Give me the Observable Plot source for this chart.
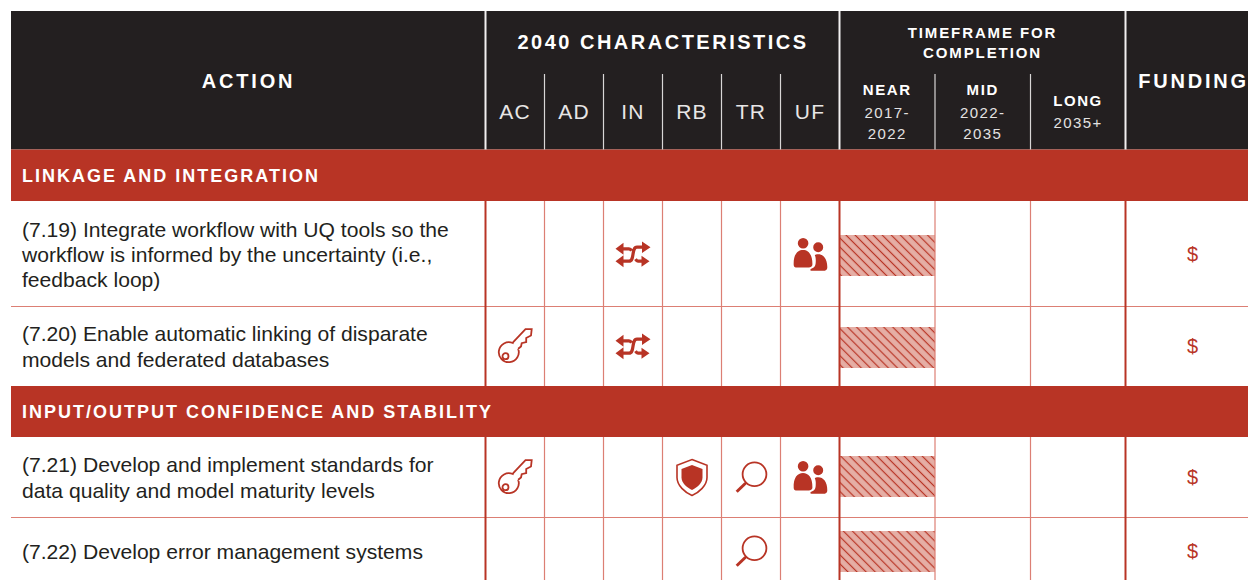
<!DOCTYPE html>
<html>
<head>
<meta charset="utf-8">
<script src="https://cdn.jsdelivr.net/npm/d3@7"></script>
<script src="https://cdn.jsdelivr.net/npm/@observablehq/plot@0.6"></script>
<style>html,body{margin:0;padding:0;background:#fff}svg{display:block}</style>
</head>
<body>
<script>
// ---- data ----
const sections = ["LINKAGE AND INTEGRATION", "INPUT/OUTPUT CONFIDENCE AND STABILITY"];
const actions = [
  "(7.19) Integrate workflow with UQ tools so the\nworkflow is informed by the uncertainty (i.e.,\nfeedback loop)",
  "(7.20) Enable automatic linking of disparate\nmodels and federated databases",
  "(7.21) Develop and implement standards for\ndata quality and model maturity levels",
  "(7.22) Develop error management systems"
];
const characteristics = ["AC", "AD", "IN", "RB", "TR", "UF"];
const actionCharacteristics = [["IN", "UF"], ["AC", "IN"], ["AC", "RB", "TR", "UF"], ["TR"]];
const timeframes = ["NEAR", "MID", "LONG"];
const timeframeLabels = ["2017-\n2022", "2022-\n2035", "2035+"];
const actionTimeframe = ["NEAR", "NEAR", "NEAR", "NEAR"];
const actionFunding = ["$", "$", "$", "$"];

// ---- layout of the table grid (in scale units = px) ----
const W = 1248, H = 580, L = 11, T = 11;
const charEdges = [485, 544, 603, 662, 721, 780, 839];
const timeEdges = [839, 934.5, 1030, 1125];
const headBottom = 149.5, subTop = 74;
const sectionBands = [[149.5, 201], [386, 437]];
const rowLines = [306, 517];
const rowCenters = [254, 346, 477, 551];
const barBands = [[235, 276], [327, 368], [456, 497], [531, 572]];
const INK = "#231f20", RED = "#b83425", SOFT = "#dc7f74";
const SANS = "'Liberation Sans', Arial, sans-serif";
const charX = c => { const i = characteristics.indexOf(c); return (charEdges[i] + charEdges[i + 1]) / 2; };
const timeX = i => (timeEdges[i] + timeEdges[i + 1]) / 2;

const spaced = px => ({
  render(i, s, v, d, c, next) { const g = next(i, s, v, d, c); g.style.letterSpacing = px + "px"; return g; }
});
const circle = (p, x, y, r) => { p.moveTo(x + r, y); p.arc(x, y, r, 0, 2 * Math.PI); };
const poly = (p, pts, close = true) => {
  pts.forEach(([x, y], i) => i ? p.lineTo(x, y) : p.moveTo(x, y));
  if (close) p.closePath();
};

// ---- icon glyphs ----
const keyGlyph = { draw(p) {
  poly(p, [[-1.8, -4.3], [10.5, -17.4], [16.7, -17.4], [16, -11], [11.2, -8.5], [11.2, -4.5], [6.7, -3.3], [6, 0], [3.2, 2.3]], false);
  p.arc(-6.2, 5.7, 10, Math.atan2(-3.4, 9.3), Math.atan2(-10, 4.4) + 2 * Math.PI);
  p.closePath();
  circle(p, -9.5, 9.7, 3);
} };
const shuffleLines = { draw(p) {
  p.moveTo(-11, 6.7); p.lineTo(-4, 6.7); p.bezierCurveTo(2, 6.7, -2, -7.3, 4, -7.3); p.lineTo(10, -7.3);
  p.moveTo(-11, -5.7); p.lineTo(-4, -5.7); p.bezierCurveTo(-2.5, -5.7, -2, -4.8, -1.5, -3.8);
  p.moveTo(2.5, 4.6); p.bezierCurveTo(3.4, 6, 4, 6.7, 5, 6.7); p.lineTo(10, 6.7);
} };
const shuffleHeads = { draw(p) {
  poly(p, [[-17.5, -5.7], [-9.5, -11.7], [-9.5, 0.3]]);
  poly(p, [[-17.5, 6.7], [-9.5, 0.7], [-9.5, 12.7]]);
  poly(p, [[17.5, -7.3], [9, -13], [9, -1.6]]);
  poly(p, [[16.5, 6.7], [8.5, 1.2], [8.5, 12.2]]);
} };
const shieldOutline = { draw(p) {
  p.moveTo(0, -18); p.lineTo(15, -12.3); p.lineTo(15, 0);
  p.bezierCurveTo(15, 8, 7, 15, 0, 18);
  p.bezierCurveTo(-7, 15, -15, 8, -15, 0);
  p.lineTo(-15, -12.3); p.closePath();
} };
const shieldCore = { draw(p) {
  p.moveTo(0, -12.5); p.lineTo(10.5, -8.5); p.lineTo(10.5, 0);
  p.bezierCurveTo(10.5, 5.5, 5, 10, 0, 12.5);
  p.bezierCurveTo(-5, 10, -10.5, 5.5, -10.5, 0);
  p.lineTo(-10.5, -8.5); p.closePath();
} };
const lensRing = { draw(p) {
  circle(p, 3.5, -3.3, 11.9);
  p.moveTo(-5, 5.2); p.lineTo(-6.5, 6.7);
} };
const lensHandle = { draw(p) { p.moveTo(-5.5, 5.7); p.lineTo(-14.3, 14.3); } };
const peopleGlyph = { draw(p) {
  circle(p, -6.9, -11.3, 5.3);
  p.moveTo(-16.3, 10.5);
  p.bezierCurveTo(-16.8, 0, -12.5, -4.6, -7, -4.6);
  p.bezierCurveTo(-1.5, -4.6, 2.6, 0, 2.4, 10);
  p.bezierCurveTo(2.4, 12.6, 0, 13, -3, 13);
  p.lineTo(-13, 13);
  p.bezierCurveTo(-15, 13, -16.3, 12.5, -16.3, 10.5);
  p.closePath();
  circle(p, 8.2, -7.3, 5);
  p.moveTo(8, -0.3);
  p.bezierCurveTo(13, -0.5, 17.5, 4, 17.3, 13);
  p.bezierCurveTo(17.3, 15.5, 15.8, 16.3, 13, 16.3);
  p.lineTo(1.5, 16.3);
  p.bezierCurveTo(0, 16.3, 0, 14.8, 1.2, 14.3);
  p.bezierCurveTo(4.5, 13, 5.5, 11.5, 5.7, 8);
  p.bezierCurveTo(6, 4.5, 5.5, 2, 4.8, 0.8);
  p.bezierCurveTo(5.5, 0, 6.5, -0.3, 8, -0.3);
  p.closePath();
} };

// ---- derived tables ----
const placed = actionCharacteristics.flatMap((cs, row) => cs.map(c => ({c, x: charX(c), y: rowCenters[row]})));
const iconOf = c => placed.filter(d => d.c === c);
const icon = (c, symbol, opts) => Plot.dot(iconOf(c), {x: "x", y: "y", symbol, r: 5, ...opts});
const lined = w => ({fill: "none", stroke: RED, strokeWidth: w});
const solid = {fill: RED, stroke: "none"};
const bars = actionTimeframe.map((t, row) => {
  const i = timeframes.indexOf(t);
  return {x1: timeEdges[i] + 1, x2: timeEdges[i + 1] + 0.5, y1: barBands[row][0], y2: barBands[row][1]};
});

const hatchDefs = () => {
  const defs = d3.create("svg:defs");
  const pat = defs.append("pattern").attr("id", "hatch").attr("patternUnits", "userSpaceOnUse")
    .attr("width", 6.4).attr("height", 6.4).attr("patternTransform", "rotate(-45)");
  pat.append("rect").attr("width", 6.4).attr("height", 6.4).attr("fill", "#e5aea5");
  pat.append("line").attr("x1", 3.2).attr("x2", 3.2).attr("y1", 0).attr("y2", 6.4)
    .attr("stroke", RED).attr("stroke-width", 1.2);
  return defs.node();
};

const chart = Plot.plot({
  width: W, height: H,
  margin: 0,
  x: {domain: [0, W], range: [0, W], axis: null},
  y: {domain: [0, H], range: [0, H], axis: null},
  style: {background: "#fff", fontFamily: SANS},
  marks: [
    hatchDefs,
    // header and section bands
    Plot.rect([0], {x1: L, x2: W, y1: T, y2: headBottom, fill: INK}),
    Plot.rect(sectionBands, {x1: L, x2: W, y1: d => d[0], y2: d => d[1], fill: RED}),
    // hatched timeframe bars
    Plot.rect(bars, {x1: "x1", x2: "x2", y1: "y1", y2: "y2", fill: "url(#hatch)"}),
    // row lines
    Plot.ruleY(rowLines, {x1: L, x2: W, stroke: SOFT, strokeWidth: 1.2}),
    // header grid
    Plot.ruleX([charEdges[0], charEdges[6], timeEdges[3]], {y1: T, y2: headBottom, stroke: "#f2f0f0", strokeWidth: 2}),
    Plot.ruleX([...charEdges.slice(1, 6), ...timeEdges.slice(1, 3)], {y1: subTop, y2: headBottom, stroke: "#d8d6d6", strokeWidth: 1.2}),
    // body grid
    ...[[201, 386], [437, H]].flatMap(([a, b]) => [
      Plot.ruleX([...charEdges.slice(1, 6), ...timeEdges.slice(1, 3)], {y1: a, y2: b, stroke: SOFT, strokeWidth: 1.2}),
      Plot.ruleX([charEdges[0], charEdges[6], timeEdges[3]], {y1: a, y2: b, stroke: RED, strokeWidth: 2})
    ]),
    // header text
    Plot.text(["ACTION"], {x: 248, y: 81, text: d => d, fill: "#fff", fontSize: 20, fontWeight: 700, ...spaced(2.8)}),
    Plot.text(["2040 CHARACTERISTICS"], {x: 662.5, y: 42, text: d => d, fill: "#fff", fontSize: 20, fontWeight: 700, ...spaced(2.5)}),
    Plot.text(["FUNDING"], {x: 1193, y: 81, text: d => d, fill: "#fff", fontSize: 20, fontWeight: 700, ...spaced(2.8)}),
    Plot.text(["TIMEFRAME FOR\nCOMPLETION"], {x: 982, y: 41.5, text: d => d, fill: "#fff", fontSize: 15, fontWeight: 700, lineHeight: 1.33, ...spaced(1.9)}),
    Plot.text(characteristics, {x: charX, y: 112, text: d => d, fill: "#e8e6e6", fontSize: 21, ...spaced(1.2)}),
    Plot.text(timeframes.slice(0, 2), {x: (d, i) => timeX(i), y: 90, text: d => d, fill: "#fff", fontSize: 15, fontWeight: 700, ...spaced(1.6)}),
    Plot.text(timeframes.slice(2), {x: timeX(2), y: 101, text: d => d, fill: "#fff", fontSize: 15, fontWeight: 700, ...spaced(1.6)}),
    Plot.text(timeframeLabels.slice(0, 2), {x: (d, i) => timeX(i), y: 121, text: d => d, fill: "#e4e2e2", fontSize: 15, lineHeight: 1.4, ...spaced(1.4)}),
    Plot.text(timeframeLabels.slice(2), {x: timeX(2), y: 123, text: d => d, fill: "#e4e2e2", fontSize: 15, ...spaced(1.4)}),
    // section text
    Plot.text(sections, {x: 21.5, y: (d, i) => (sectionBands[i][0] + sectionBands[i][1]) / 2 + 0.5, text: d => d, textAnchor: "start", fill: "#fff", fontSize: 18, fontWeight: 700, ...spaced(2)}),
    // action text
    Plot.text(actions, {x: 21.5, y: (d, i) => rowCenters[i] - 0.7, text: d => d, textAnchor: "start", fill: INK, fontSize: 21.1, lineHeight: 1.2}),
    // funding
    Plot.text(actionFunding, {x: 1192, y: (d, i) => rowCenters[i], text: d => d, fill: RED, fontSize: 20}),
    // icons
    icon("AC", keyGlyph, lined(1.8)),
    icon("IN", shuffleLines, lined(3.2)),
    icon("IN", shuffleHeads, solid),
    icon("RB", shieldOutline, lined(1.6)),
    icon("RB", shieldCore, solid),
    icon("TR", lensRing, lined(1.8)),
    icon("TR", lensHandle, lined(3)),
    icon("UF", peopleGlyph, solid)
  ]
});
document.body.appendChild(chart);
</script>
</body>
</html>
